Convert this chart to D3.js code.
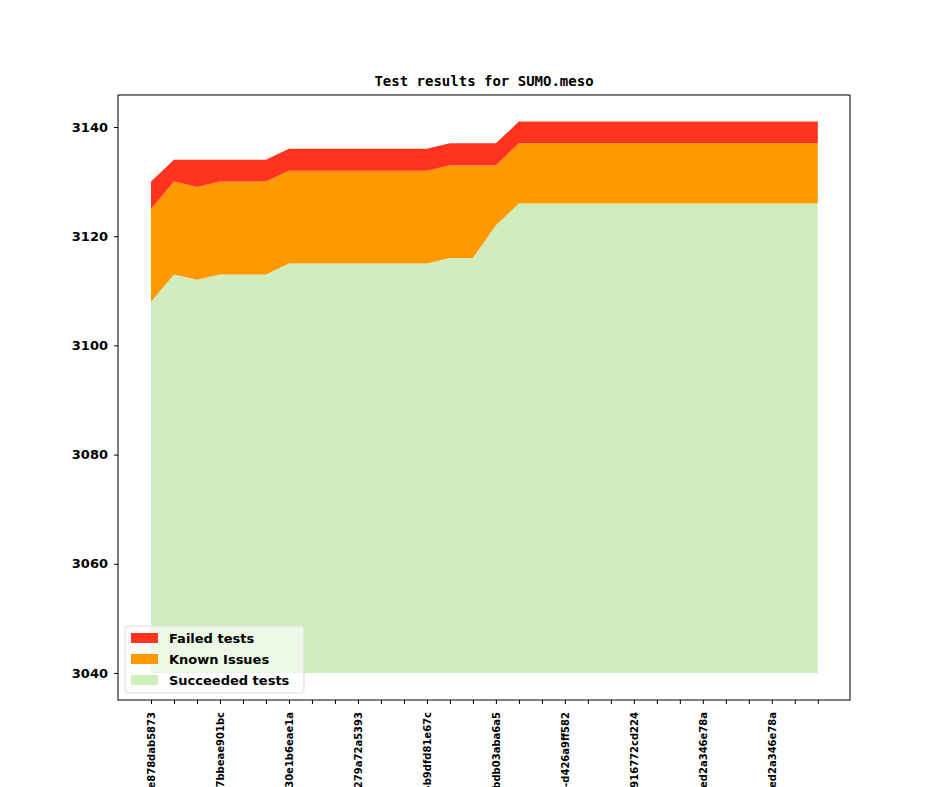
<!DOCTYPE html>
<html><head><meta charset="utf-8">
<script src="https://cdn.jsdelivr.net/npm/d3@7"></script>
<style>body{margin:0;background:#fff}</style>
</head><body><div id="screen"></div>
<script>
var succeeded = [3108,3113,3112,3113,3113,3113,3115,3115,3115,3115,3115,3115,3115,3116,3116,3122,3126,3126,3126,3126,3126,3126,3126,3126,3126,3126,3126,3126,3126,3126],
    known     = [3125,3130,3129,3130,3130,3130,3132,3132,3132,3132,3132,3132,3132,3133,3133,3133,3137,3137,3137,3137,3137,3137,3137,3137,3137,3137,3137,3137,3137,3137],
    failed    = [3130,3134,3134,3134,3134,3134,3136,3136,3136,3136,3136,3136,3136,3137,3137,3137,3141,3141,3141,3141,3141,3141,3141,3141,3141,3141,3141,3141,3141,3141],
    labels = ['e878dab5873','7bbeae901bc','30e1b6eae1a','279a72a5393',
              '-b9dfd81e67c','bdb03aba6a5','-d426a9ff582','916772cd224',
              '-ed2a346e78a','-ed2a346e78a'];

var scene = d3.select('#screen').append('svg').attr('width', 944).attr('height', 787),
    x = d3.scaleLinear().domain([-1.435, 30.4]).range([118, 850]),
    y = d3.scaleLinear().domain([3035.05, 3145.86]).range([700, 95]),
    base = 3040;

var area = function(lo, hi) {
  return d3.area().x(function(d, i) { return x(i); })
                  .y0(function(d, i) { return y(lo ? lo[i] : base); })
                  .y1(function(d, i) { return y(hi[i]); })(hi);
};

scene.append('path').attr('d', area(null, succeeded)).attr('fill', '#cfedbd');
scene.append('path').attr('d', area(succeeded, known)).attr('fill', '#ff9900');
scene.append('path').attr('d', area(known, failed)).attr('fill', '#ff331f');

scene.append('rect').attr('x', 118).attr('y', 95).attr('width', 732).attr('height', 605)
     .attr('fill', 'none').attr('stroke', '#000').attr('stroke-width', 1);

var ya = scene.append('g').attr('transform', 'translate(118,0)')
  .call(d3.axisLeft(y).tickValues([3040,3060,3080,3100,3120,3140]).tickFormat(d3.format('d')).tickSize(4).tickPadding(6));
ya.select('.domain').remove();
ya.selectAll('text').attr('font-family', 'DejaVu Sans').attr('font-weight', 'bold').attr('font-size', 13);

var xa = scene.append('g').attr('transform', 'translate(0,700)')
  .call(d3.axisBottom(x).tickValues(d3.range(30)).tickSize(4).tickFormat(''));
xa.select('.domain').remove();
xa.selectAll('.lbl').data(labels).enter().append('text')
  .attr('transform', function(d, i) { return 'translate(' + (x(i * 3) + 4) + ',12) rotate(-90)'; })
  .attr('text-anchor', 'end').attr('font-family', 'DejaVu Sans').attr('font-weight', 'bold')
  .attr('font-size', 10).attr('fill', '#000').text(function(d) { return d; });

scene.append('text').attr('x', 484).attr('y', 86).attr('text-anchor', 'middle')
  .attr('font-family', 'DejaVu Sans Mono').attr('font-weight', 'bold').attr('font-size', 14)
  .text('Test results for SUMO.meso');

var lg = scene.append('g').attr('transform', 'translate(125,626)');
lg.append('rect').attr('width', 179).attr('height', 67).attr('rx', 3)
  .attr('fill', 'rgba(255,255,255,0.6)').attr('stroke', '#ddd');
[['Failed tests', '#ff331f'], ['Known Issues', '#ff9900'], ['Succeeded tests', '#cfedbd']].forEach(function(e, i) {
  lg.append('rect').attr('x', 6).attr('y', 7 + i * 21).attr('width', 27).attr('height', 10).attr('fill', e[1]);
  lg.append('text').attr('x', 44).attr('y', 17 + i * 21).attr('font-family', 'DejaVu Sans')
    .attr('font-weight', 'bold').attr('font-size', 13).text(e[0]);
});
</script></body></html>
